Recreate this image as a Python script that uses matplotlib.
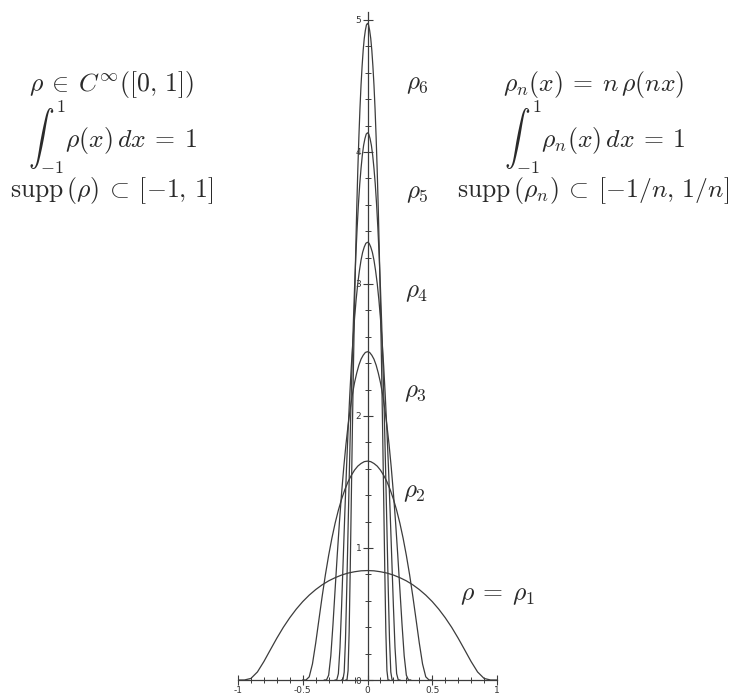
import numpy as np
import matplotlib.pyplot as plt
from matplotlib.ticker import MultipleLocator

plt.rcParams['mathtext.fontset'] = 'cm'

# base bump rho = rho_1 (symmetric, peak ~0.83)
x_base = [-1.0, -0.95, -0.9, -0.85, -0.8, -0.75, -0.7, -0.65, -0.6, -0.55, -0.5,
          -0.45, -0.4, -0.35, -0.3, -0.25, -0.2, -0.15, -0.1, -0.05, 0.0,
          0.05, 0.1, 0.15, 0.2, 0.25, 0.3, 0.35, 0.4, 0.45, 0.5,
          0.55, 0.6, 0.65, 0.7, 0.75, 0.8, 0.85, 0.9, 0.95, 1.0]
rho_base = [0.0, 0.0001, 0.012, 0.061, 0.140, 0.229, 0.317, 0.399, 0.472, 0.537, 0.594,
            0.643, 0.685, 0.721, 0.751, 0.775, 0.795, 0.810, 0.820, 0.827, 0.829,
            0.827, 0.820, 0.810, 0.795, 0.775, 0.751, 0.721, 0.685, 0.643, 0.594,
            0.537, 0.472, 0.399, 0.317, 0.229, 0.140, 0.061, 0.012, 0.0001, 0.0]
n_values = [1, 2, 3, 4, 5, 6]

x_ticks = [-1, -0.5, 0, 0.5, 1]
x_ticklabels = ['-1', '-0.5', '0', '0.5', '1']
y_ticks = [0, 1, 2, 3, 4, 5]

line_col = '#3c3c3c'

fig = plt.figure(figsize=(7.33, 6.95), dpi=100)
ax = fig.add_axes([238/733, 15/695, 259/733, 668/695])

xb = np.array(x_base)
rb = np.array(rho_base)
for n in n_values:
    # rho_n(x) = n rho(n x)
    ax.plot(xb / n, n * rb, color=line_col, lw=0.9)

ax.set_xlim(-1.0, 1.0)
ax.set_ylim(0, 5.06)

ax.spines['top'].set_visible(False)
ax.spines['right'].set_visible(False)
ax.spines['left'].set_position(('data', 0))
for s in ['left', 'bottom']:
    ax.spines[s].set_color(line_col)
    ax.spines[s].set_linewidth(0.9)

ax.set_xticks(x_ticks)
ax.set_xticklabels(x_ticklabels)
ax.set_yticks(y_ticks)
ax.xaxis.set_minor_locator(MultipleLocator(0.1))
ax.yaxis.set_minor_locator(MultipleLocator(0.2))
ax.tick_params(which='major', direction='inout', length=7, width=0.8, color=line_col,
               labelsize=6.5, labelcolor='#333333', pad=1)
ax.tick_params(which='minor', direction='inout', length=4, width=0.7, color=line_col)
ax.patch.set_alpha(0)

fs = 18.5
txt = dict(ha='center', va='center', fontsize=fs, color='#2a2a2a')
lab = dict(ha='center', va='center', fontsize=18, color='#2a2a2a')
W, H = 733, 695

fig.text(112/W, 1 - 84/H, r'$\rho \:\in\: C^{\infty}([0,\,1])$', **txt)
fig.text(113/W, 1 - 137/H, r'$\int_{-1}^{1}\rho(x)\,dx \:=\: 1$', **txt)
fig.text(112/W, 1 - 190/H, r'$\mathrm{supp}\,(\rho) \:\subset\: [-1,\,1]$', **txt)

fig.text(594/W, 1 - 84/H, r'$\rho_n(x) \:=\: n\,\rho(nx)$', **txt)
fig.text(595/W, 1 - 137/H, r'$\int_{-1}^{1}\rho_n(x)\,dx \:=\: 1$', **txt)
fig.text(593/W, 1 - 190/H, r'$\mathrm{supp}\,(\rho_n) \:\subset\: [-1/n,\,1/n]$', **txt)

fig.text(417/W, 1 - 84/H, r'$\rho_6$', **lab)
fig.text(417/W, 1 - 193/H, r'$\rho_5$', **lab)
fig.text(417/W, 1 - 292/H, r'$\rho_4$', **lab)
fig.text(415/W, 1 - 392/H, r'$\rho_3$', **lab)
fig.text(414/W, 1 - 492/H, r'$\rho_2$', **lab)
fig.text(498/W, 1 - 594/H, r'$\rho \:=\: \rho_1$', **txt)

plt.savefig('out.png', dpi=100)
